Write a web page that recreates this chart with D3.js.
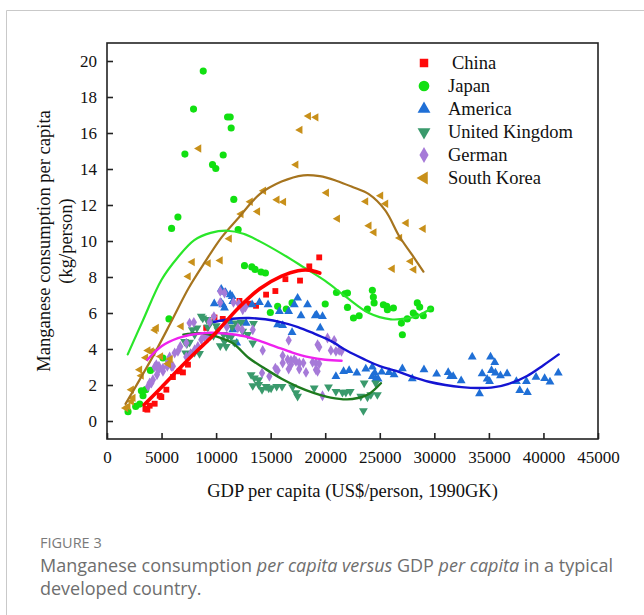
<!DOCTYPE html>
<html>
<head>
<meta charset="utf-8">
<script src="https://cdn.jsdelivr.net/npm/d3@7/dist/d3.min.js"></script>
<style>
  html, body { margin: 0; padding: 0; background: #fff; }
  svg { display: block; }
  .serif { font-family: "Liberation Serif", "Times New Roman", serif; fill: #111; }
  .cap { font-family: "Open Sans", "Noto Sans", sans-serif; fill: #6e6e6e; }
</style>
</head>
<body>
<svg id="chart" width="644" height="615"></svg>
<script>
// ---- data: [GDP per capita (US$/person, 1990GK), Mn consumption (kg/person)] ----
const china = [[3520,0.67],[3700,0.63],[3910,0.85],[4370,0.96],[4830,1.40],[4980,1.33],[5440,1.74],[6040,2.44],[6650,2.76],[6960,2.70],[7420,3.13],[9090,5.17],[9850,5.75],[10610,5.67],[12140,6.67],[12440,6.46],[12960,6.52],[13660,6.40],[14580,7.02],[15430,7.22],[16350,7.88],[17690,7.80],[18540,8.59],[19450,9.09]];

const japan = [[1930,0.52],[2630,0.81],[3000,0.94],[3300,1.40],[3150,1.68],[3550,1.74],[3980,2.81],[5130,3.50],[5680,5.67],[5920,10.70],[6500,11.33],[7140,14.83],[7930,17.33],[8820,19.44],[9670,14.24],[9970,14.03],[10650,14.78],[11050,16.89],[11290,16.89],[11380,16.28],[11620,12.31],[12020,10.64],[12600,8.63],[13270,8.56],[13570,8.42],[14120,8.28],[14520,8.22],[14970,6.03],[15640,6.37],[16430,6.22],[16960,6.56],[20000,6.50],[21030,7.14],[21800,7.07],[22040,7.11],[22040,6.31],[22590,5.72],[23110,5.85],[23870,6.22],[24320,7.26],[24410,6.89],[24480,6.56],[25330,6.46],[25640,6.37],[25700,6.18],[26250,6.28],[26980,5.44],[27070,4.79],[27520,5.67],[28070,6.00],[28290,5.85],[28440,6.56],[28660,6.33],[28990,5.85],[29660,6.22]];

const america = [[9830,6.52],[10470,7.33],[10860,7.15],[11290,7.02],[11470,6.92],[10610,6.46],[10470,6.56],[11530,6.64],[10770,6.28],[12750,5.44],[11290,5.53],[11530,5.07],[11890,4.33],[13300,6.46],[13970,6.59],[14760,6.46],[15800,6.09],[16650,6.09],[17170,6.46],[17470,6.83],[18380,6.46],[17780,5.85],[19090,5.85],[19210,5.90],[19750,5.81],[19540,5.17],[15640,5.35],[16100,5.31],[16960,4.92],[20980,2.48],[21680,2.76],[22190,2.81],[22900,2.67],[23720,2.89],[24320,3.00],[24540,2.67],[24320,2.48],[24630,2.33],[24850,2.33],[25180,2.72],[25850,2.70],[26310,2.57],[27070,2.91],[27980,2.35],[29050,2.85],[30210,2.61],[31270,2.70],[31490,2.48],[31730,2.48],[32460,2.24],[33470,3.56],[34140,1.52],[34380,2.63],[34840,2.33],[35060,2.20],[35150,3.56],[35240,2.81],[35540,3.26],[35600,2.67],[36060,2.52],[36670,2.63],[37520,2.20],[37830,1.70],[38440,2.20],[38530,1.59],[39320,2.44],[40110,2.37],[40600,2.17],[41360,2.67]];

const unitedKingdom = [[7110,4.42],[7320,4.29],[7570,4.37],[7200,3.78],[7570,3.68],[8030,3.81],[8480,3.74],[7820,5.07],[8240,5.17],[8030,4.80],[8640,5.81],[8780,5.72],[9150,5.63],[9490,5.48],[9090,4.80],[9460,4.74],[9760,4.74],[9240,5.22],[10160,5.07],[10010,5.29],[10680,4.80],[11070,4.74],[10770,4.42],[10380,4.18],[10920,4.14],[11380,4.67],[11680,4.37],[10920,5.44],[11470,5.22],[11840,5.44],[12290,5.48],[12440,4.98],[13420,5.41],[12900,4.80],[13360,4.33],[13210,2.57],[13510,2.39],[13900,2.29],[14210,1.74],[14580,1.92],[15040,1.83],[15550,1.92],[16040,1.92],[13360,1.96],[13900,2.02],[14820,1.83],[17010,1.89],[17320,1.56],[17470,1.37],[18990,1.83],[20300,1.89],[20980,1.64],[21580,1.59],[21890,1.59],[22290,1.64],[23570,2.11],[23260,1.37],[23870,1.33],[24180,1.46],[24780,1.46],[24630,2.11],[23500,0.57]];

const german = [[3760,1.92],[3910,2.11],[4070,2.11],[4210,2.29],[4580,2.57],[4370,3.00],[4520,3.13],[4730,2.85],[4760,3.04],[5130,2.76],[5130,2.94],[5530,3.04],[5590,3.31],[5900,3.04],[6040,3.04],[5740,3.56],[6200,3.78],[6500,3.87],[6720,4.14],[7270,3.56],[7270,4.33],[7660,3.74],[8030,3.96],[7570,5.44],[7960,5.48],[8330,4.14],[8640,4.52],[8940,4.70],[9240,4.61],[9400,5.50],[9800,5.80],[10380,7.20],[10770,7.11],[10380,6.59],[11590,6.59],[12070,6.52],[12440,6.18],[12690,6.33],[10980,5.22],[11990,5.17],[12390,5.07],[13360,5.07],[14270,3.92],[16650,4.48],[16100,3.63],[16560,3.41],[16860,3.37],[17160,3.41],[17320,3.31],[17620,3.22],[16860,3.13],[16100,3.22],[17990,3.22],[18840,3.26],[19150,3.22],[19450,3.18],[19150,2.85],[19300,2.76],[18240,2.70],[17620,2.89],[19300,4.24],[19450,4.11],[20210,4.61],[20820,4.48],[20520,3.92],[20980,3.87],[21280,3.92],[21490,3.87],[15430,2.94],[15640,2.81],[14880,2.48],[14210,2.67],[16650,2.89],[19750,1.40]];

const southKorea = [[1720,0.72],[1930,0.81],[2240,1.09],[2390,1.28],[2240,1.74],[3000,2.85],[3150,2.52],[3550,3.52],[3760,3.92],[4070,3.87],[4210,3.81],[4920,3.59],[5590,3.18],[5650,3.18],[5800,3.44],[4530,5.17],[4400,5.05],[6810,5.26],[7450,8.03],[7820,8.83],[9280,8.76],[10380,8.92],[8420,15.14],[11220,10.13],[12290,11.50],[13140,12.18],[13810,11.64],[14360,12.79],[15590,12.29],[16190,12.17],[17320,14.24],[17690,16.17],[18470,16.94],[19150,16.87],[20120,12.68],[21130,11.24],[23720,12.20],[24020,10.85],[24480,10.48],[25090,12.52],[25550,12.07],[26830,10.17],[26150,8.46],[27430,11.00],[27830,8.87],[28130,8.41],[28990,10.68]];

// fitted trend curves
const chinaFit = [[3400,0.90],[5000,1.88],[6500,2.83],[8000,3.75],[10000,4.92],[12000,6.25],[14000,7.35],[16000,8.05],[17500,8.35],[18500,8.38],[19500,8.22]];
const japanFit = [[1900,3.70],[3300,5.60],[5000,7.85],[6500,9.10],[8000,10.05],[9500,10.45],[11000,10.57],[12500,10.40],[14000,9.98],[16000,9.30],[18000,8.55],[20000,7.78],[22000,6.85],[24000,6.00],[26000,5.65],[27500,5.70],[28500,5.85],[29700,6.25]];
const americaFit = [[9800,5.50],[11500,5.68],[13000,5.72],[14500,5.65],[16000,5.48],[17500,5.22],[19000,4.85],[20500,4.45],[22000,3.90],[23500,3.45],[25000,3.05],[26500,2.78],[28000,2.45],[29500,2.18],[31000,2.00],[32500,1.88],[34000,1.83],[35500,1.88],[37000,2.10],[38500,2.50],[40000,3.10],[41400,3.70]];
const ukFit = [[7000,4.80],[8500,4.88],[10000,4.70],[11500,4.33],[13000,3.50],[14500,2.90],[16000,2.35],[17500,1.90],[19000,1.55],[20500,1.30],[22000,1.20],[23000,1.28],[24000,1.50],[25100,2.10]];
const germanFit = [[3700,3.40],[5000,4.15],[6500,4.60],[8000,4.82],[9500,4.90],[11000,4.85],[12500,4.72],[14000,4.45],[15500,4.12],[17000,3.80],[18500,3.55],[20000,3.40],[21500,3.35]];
const koreaFit = [[1700,0.95],[3000,2.30],[4400,3.80],[6000,5.65],[7500,7.40],[9000,8.85],[10500,10.20],[12000,11.25],[14000,12.60],[16000,13.30],[18000,13.65],[19500,13.60],[21000,13.35],[22500,13.00],[24000,12.60],[25500,11.70],[26800,10.25],[28000,9.20],[29000,8.30]];

const xTicks = [0,5000,10000,15000,20000,25000,30000,35000,40000,45000];
const yTicks = [0,2,4,6,8,10,12,14,16,18,20];
const seriesNames = ["China","Japan","America","United Kingdom","German","South Korea"];

// ---- layout ----
const svg = d3.select("#chart");
const plot = {left: 107, right: 598, top: 43, bottom: 439};

const x = d3.scaleLinear().domain([0, 45000]).range([plot.left, plot.right]);
const y = d3.scaleLinear().domain([-1, 21]).range([plot.bottom, plot.top]);

// page frame
svg.append("path").attr("d", "M6.5,615 V10.5 H644")
  .attr("fill", "none").attr("stroke", "#c9c9c9").attr("stroke-width", 1);

// axes with inward ticks
const xAxis = d3.axisBottom(x).tickValues(xTicks).tickSize(-6).tickPadding(12).tickFormat(d3.format("d"));
const yAxis = d3.axisLeft(y).tickValues(yTicks).tickSize(-6).tickPadding(10).tickFormat(d3.format("d"));

const gx = svg.append("g").attr("transform", `translate(0,${plot.bottom})`).call(xAxis);
const gy = svg.append("g").attr("transform", `translate(${plot.left},0)`).call(yAxis);
[gx, gy].forEach(g => {
  g.select(".domain").remove();
  g.selectAll(".tick line").attr("stroke", "#222").attr("stroke-width", 1.6);
  g.selectAll("text").attr("class", "serif").style("font-size", "17px").attr("fill", "#111");
});

// plot border
svg.append("rect")
  .attr("x", plot.left).attr("y", plot.top)
  .attr("width", plot.right - plot.left).attr("height", plot.bottom - plot.top)
  .attr("fill", "none").attr("stroke", "#222").attr("stroke-width", 1.6);

// series styling
const styles = {
  "China":          {pts: china,         fit: chinaFit,   color: "#ff0a0a", line: "#ff0000", lw: 3.6, shape: d3.symbolSquare,   rot: 0,   size: 34},
  "Japan":          {pts: japan,         fit: japanFit,   color: "#11e011", line: "#2ae62a", lw: 2.2, shape: d3.symbolCircle,   rot: 0,   size: 40},
  "America":        {pts: america,       fit: americaFit, color: "#1f6fd6", line: "#1414d2", lw: 2.4, shape: d3.symbolTriangle, rot: 0,   size: 34},
  "United Kingdom": {pts: unitedKingdom, fit: ukFit,      color: "#3a9a6c", line: "#1e7a1e", lw: 2.4, shape: d3.symbolTriangle, rot: 180, size: 34},
  "German":         {pts: german,        fit: germanFit,  color: "#a67ad8", line: "#ee22ee", lw: 2.4, shape: d3.symbolDiamond,  rot: 0,   size: 34},
  "South Korea":    {pts: southKorea,    fit: koreaFit,   color: "#c8901a", line: "#a6741e", lw: 2.2, shape: d3.symbolTriangle, rot: -90, size: 30}
};

const markers = svg.append("g");
seriesNames.forEach(name => {
  const s = styles[name];
  const sym = d3.symbol().type(s.shape).size(s.size);
  markers.append("g").selectAll("path").data(s.pts).join("path")
    .attr("d", sym)
    .attr("transform", d => `translate(${x(d[0])},${y(d[1])}) rotate(${s.rot})`)
    .attr("fill", s.color);
});

const line = d3.line().x(d => x(d[0])).y(d => y(d[1])).curve(d3.curveCatmullRom.alpha(0.5));
const fitOrder = ["South Korea","Japan","America","United Kingdom","German","China"];
const fits = svg.append("g");
fitOrder.forEach(name => {
  const s = styles[name];
  fits.append("path").datum(s.fit)
    .attr("d", line).attr("fill", "none")
    .attr("stroke", s.line).attr("stroke-width", s.lw)
    .attr("stroke-linecap", "round");
});

// legend
const legend = svg.append("g");
seriesNames.forEach((name, i) => {
  const s = styles[name];
  const ly = 63 + i * 23;
  legend.append("path")
    .attr("d", d3.symbol().type(s.shape).size(name === "Japan" ? 90 : 72))
    .attr("transform", `translate(424,${ly}) rotate(${s.rot})`)
    .attr("fill", s.color);
  legend.append("text").attr("class", "serif")
    .attr("x", name === "China" ? 452 : 448).attr("y", ly)
    .attr("dy", "0.35em").style("font-size", "18.5px").text(name);
});

// axis titles
svg.append("text").attr("class", "serif")
  .attr("x", (plot.left + plot.right) / 2).attr("y", 497)
  .attr("text-anchor", "middle").style("font-size", "18.5px")
  .text("GDP per capita (US$/person, 1990GK)");

const yt = svg.append("text").attr("class", "serif")
  .attr("transform", `translate(0,${(plot.top + plot.bottom) / 2}) rotate(-90)`)
  .attr("text-anchor", "middle").style("font-size", "18.5px");
yt.append("tspan").attr("x", 0).attr("y", 50).text("Manganese consumption per capita");
yt.append("tspan").attr("x", 0).attr("y", 72).text("(kg/person)");

// caption
svg.append("text").attr("class", "cap")
  .attr("x", 40).attr("y", 548).style("font-size", "14.5px").style("fill", "#7a7a7a")
  .text("FIGURE 3");
const cap1 = svg.append("text").attr("class", "cap").style("font-size", "18px")
  .attr("x", 40).attr("y", 572);
cap1.append("tspan").text("Manganese consumption ");
cap1.append("tspan").style("font-style", "italic").text("per capita versus");
cap1.append("tspan").text(" GDP ");
cap1.append("tspan").style("font-style", "italic").text("per capita");
cap1.append("tspan").text(" in a typical");
svg.append("text").attr("class", "cap").style("font-size", "18px")
  .attr("x", 40).attr("y", 595).text("developed country.");
</script>
</body>
</html>
